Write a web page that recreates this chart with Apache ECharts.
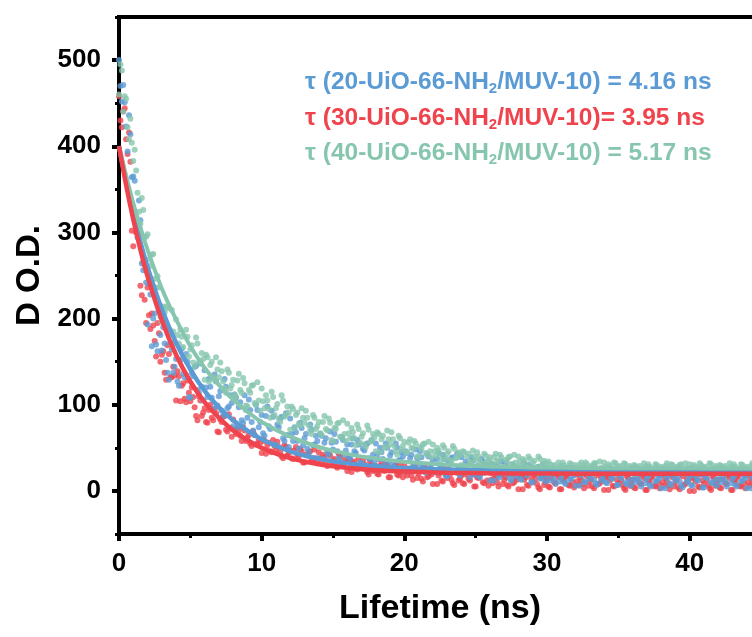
<!DOCTYPE html>
<html>
<head>
<meta charset="utf-8">
<script src="https://cdn.jsdelivr.net/npm/echarts@6/dist/echarts.min.js"></script>
<style>
html,body{margin:0;padding:0;background:#fff;}
#chart{width:752px;height:637px;}
</style>
</head>
<body>
<div id="chart"></div>
<script>
// sampling step of the decay traces (ns); the "Mid" arrays are sampled half a step later
const STEP = 0.2;

const red30 = [458,422,444,391,382,284,300,296,227,222,
236,188,192,156,183,158,137,169,132,144,
105,133,122,107,128,104,109,87,110,87,
96,79,100,82,90,68,80,87,69,73,
83,66,70,58,70,62,55,69,54,60,
44,58,53,46,59,47,51,40,53,41,
47,37,51,40,46,33,41,46,35,38,
45,34,39,29,41,35,29,43,30,36,
23,36,32,26,38,27,31,22,34,23,
29,19,33,23,29,16,25,30,18,22,
29,18,23,13,26,20,14,29,16,22,
8,23,18,12,26,15,19,9,23,12,
18,8,24,12,19,5,15,21,9,12,
21,9,15,5,19,13,7,22,9,16,
2,17,13,7,21,10,14,4,18,7,
14,4,20,9,16,2,12,18,6,10,
19,7,13,3,17,11,5,21,8,15,
1,16,12,6,20,9,13,3,17,6,
13,3,19,8,15,1,11,17,5,9,
18,6,12,2,16,10,4,20,7,14,
0,15,11,5,19,8,13,3,17,6,
13,3,19,8,15,1,11,17,5,9,
18,6,12,2,16,10];
const red30Mid = [430,441,408,416,302,319,307,238,266,195,
204,206,174,195,150,162,129,159,132,134,
139,104,125,103,114,120,97,82,105,91,
80,94,85,95,69,83,86,71,89,63,
71,74,64,74,58,65,52,65,55,56,
60,43,56,45,52,57,45,38,51,44,
38,47,42,49,33,42,45,36,48,32,
38,42,34,44,31,37,27,40,31,33,
37,22,34,25,31,36,25,19,31,25,
20,29,24,32,16,26,29,19,32,16,
22,26,18,30,15,23,11,26,17,19,
24,8,21,11,19,25,13,7,21,14,
9,19,14,22,5,16,20,10,24,6,
13,18,10,22,8,16,5,19,10,13,
18,2,16,6,14,19,8,2,16,10,
5,15,10,19,2,13,17,7,21,4,
11,16,8,20,6,14,3,18,9,12,
17,1,15,5,13,18,7,1,15,9,
4,14,9,18,1,12,16,6,20,3,
10,15,7,19,5,13,2,17,8,11,
16,0,14,4,12,18,7,1,15,9,
4,14,9,18,1,12,16,6,20,3,
10,15,7,19,5];

const blue20 = [500,452,451,394,414,365,316,337,264,264,
193,228,200,170,210,163,171,137,172,137,
153,122,165,132,150,108,133,145,114,121,
140,109,121,95,127,110,93,130,96,111,
75,108,97,82,111,85,94,70,100,74,
88,64,98,72,86,53,74,86,58,65,
84,58,68,49,73,61,49,77,53,64,
38,64,56,45,69,48,57,38,63,42,
54,38,61,44,54,32,47,55,37,42,
55,37,45,30,50,41,31,55,35,45,
23,44,38,29,48,32,39,24,43,27,
36,22,44,28,37,17,31,39,22,27,
39,22,30,16,35,26,18,37,21,30,
12,30,25,18,34,21,26,14,31,17,
25,13,32,18,27,10,21,28,14,18,
27,12,19,8,23,16,10,27,13,21,
6,22,18,11,26,14,20,9,24,12,
20,9,26,14,22,7,15,22,8,13,
23,10,16,5,21,14,7,25,11,18,
3,20,15,9,24,12,17,6,22,10,
17,6,24,12,19,4,15,22,9,13,
23,10,16,5,21,14,7,25,11,18,
3,20,15,9,24,12];
const blue20Mid = [470,471,423,436,364,360,294,314,256,242,
240,168,206,162,181,190,152,129,164,144,
127,152,136,159,109,137,144,117,148,105,
120,130,108,135,99,116,87,121,98,102,
112,74,103,79,94,106,80,65,94,80,
67,87,75,93,54,77,84,61,90,51,
66,74,58,79,53,66,45,71,54,58,
66,37,61,42,56,66,46,34,59,47,
39,54,46,59,33,49,54,38,59,33,
43,50,37,55,34,45,28,50,36,40,
46,23,42,27,38,46,30,21,40,31,
23,37,30,42,18,33,38,23,43,18,
28,34,23,39,19,29,16,34,23,26,
32,12,29,16,26,32,19,12,28,21,
14,26,20,30,10,23,27,15,31,11,
18,22,13,26,11,20,8,24,14,18,
23,6,21,10,19,25,13,7,22,15,
10,21,15,25,7,17,21,10,25,6,
14,20,11,24,9,17,5,22,12,15,
21,3,18,7,16,23,11,4,20,13,
7,18,13,23,4,16,21,10,25,6,
14,20,11,24,9,17,5,22,12,15,
21,3,18,7,16];

const green40 = [460,488,458,422,432,383,372,324,340,295,
298,261,275,236,236,196,207,212,182,185,
199,171,179,155,179,164,149,178,149,160,
129,155,146,132,155,132,139,119,141,119,
129,109,136,114,125,98,114,123,100,105,
119,96,105,85,109,96,84,111,86,98,
71,95,88,78,96,79,85,70,88,72,
80,65,87,70,79,58,72,79,62,66,
78,61,68,53,72,63,54,76,57,66,
46,66,60,51,70,54,60,46,64,48,
57,45,60,49,55,40,49,55,42,46,
54,41,47,36,50,43,36,52,38,45,
30,45,40,34,47,36,40,32,43,34,
39,31,43,34,39,28,35,40,30,33,
40,30,35,27,37,32,27,40,29,35,
23,31,29,25,33,27,30,24,32,26,
30,24,33,27,31,23,29,32,25,27,
33,26,29,23,32,28,23,32,25,29,
20,29,27,23,32,25,28,22,31,24,
28,22,32,25,30,21,27,31,24,26,
31,24,28,22,30,27,23,32,25,29,
20,29,27,23,32,25,28,22,31,24,
28,22,32,25,30,21];
const green40Mid = [495,440,455,408,404,396,346,310,326,295,
269,274,246,249,202,214,214,187,210,171,
181,187,167,187,156,169,144,171,150,153,
158,127,150,129,141,149,127,114,137,123,
112,128,117,131,99,117,122,102,126,93,
104,111,95,115,88,101,80,105,88,91,
98,73,91,76,85,93,76,66,85,75,
67,80,72,84,59,73,78,63,82,58,
67,73,61,77,56,67,51,71,58,62,
68,45,64,50,60,68,52,42,61,52,
45,56,50,58,40,51,54,44,57,39,
46,50,42,53,38,46,34,49,39,41,
46,29,43,33,40,45,35,30,41,36,
32,39,35,42,28,36,39,31,42,28,
34,37,31,40,28,35,26,37,30,32,
34,22,30,24,29,33,26,23,31,27,
24,30,27,33,23,29,32,26,34,24,
28,31,26,33,25,29,22,31,25,27,
30,20,29,23,28,31,25,21,30,26,
23,29,26,31,21,28,30,24,32,22,
27,30,25,32,24,28,22,31,25,27,
30,20,29,23,28,31,25,21,30,26,
23,29,26,31,21];

// fitted decay curves
const fitTimes = [0,0.5,1,1.5,2,3,4,5,6,7,8,9,10,12,14,16,18,20,23,26,30,35,40,45];
const fitRed   = [400,355,315,280,249,198,158,127,103,85,70,59,50,38,31,27,24,22.4,21.1,20.5,20.2,20,20,20];
const fitBlue  = [400,359,322,289,260,211,172,141,116,97,82,70,60,46,37.5,32,28.7,26.6,24.8,23.9,23.4,23.1,23,23];
const fitGreen = [400,366,334,306,280,235,199,168,143,123,106,92,80,63,51,43,37.5,33.8,30.4,28.4,27.1,26.4,26.2,26.1];

// axis tick labels and annotation texts
const yLabelValues = [0,100,200,300,400,500];
const legendLines = [
  {pre:'τ (20-UiO-66-NH', post:'/MUV-10) = 4.16 ns', color:'#5B9BD5'},
  {pre:'τ (30-UiO-66-NH', post:'/MUV-10)= 3.95 ns',  color:'#EF434D'},
  {pre:'τ (40-UiO-66-NH', post:'/MUV-10) = 5.17 ns', color:'#86C6AE'}
];

const C_BLUE = '#5B9BD5', C_RED = '#EF434D', C_GREEN = '#86C6AE';
const FONT = '"Liberation Sans", Arial, sans-serif';

const twoTraces = (a, b) => a.map((v, i) => [i * STEP, v]).concat(b.map((v, i) => [i * STEP + STEP / 2, v]));
const fit = arr => arr.map((v, i) => [fitTimes[i], v]);

const chart = echarts.init(document.getElementById('chart'), null, {renderer:'canvas'});

const scatterBase = {type:'scatter', symbolSize:6, symbol:'circle', silent:true};
const lineBase = {type:'line', smooth:0.4, showSymbol:false, symbol:'none', silent:true};

chart.setOption({
  animation:false,
  backgroundColor:'#fff',
  grid:{left:119, top:17, width:642, height:517, show:true, borderColor:'#000', borderWidth:4,
        backgroundColor:'transparent', outerBoundsMode:'none', containLabel:false},
  xAxis:{
    type:'value', min:0, max:45, interval:10,
    name:'Lifetime (ns)', nameLocation:'middle', nameGap:58,
    nameTextStyle:{fontFamily:FONT, fontWeight:'bold', fontSize:34, color:'#000'},
    axisLine:{show:true, onZero:false, lineStyle:{color:'#000', width:4}},
    axisTick:{show:true, inside:false, length:7, lineStyle:{color:'#000', width:4}},
    minorTick:{show:true, splitNumber:2, length:4, lineStyle:{color:'#000', width:3}},
    axisLabel:{margin:17, fontFamily:FONT, fontWeight:'bold', fontSize:26, color:'#000',
      formatter: v => (v % 10 === 0 && v <= 40) ? String(v) : ''},
    splitLine:{show:false}
  },
  yAxis:[
    {
      type:'value', min:-50, max:550, interval:50, position:'left',
      axisLine:{show:false},
      axisTick:{show:true, length:4, lineStyle:{color:'#000', width:3}},
      axisLabel:{show:false},
      splitLine:{show:false}
    },
    {
      type:'value', min:-50, max:550, position:'left', offset:0,
      name:'D O.D.', nameLocation:'middle', nameGap:72, nameRotate:90,
      nameTextStyle:{fontFamily:FONT, fontWeight:'bold', fontSize:33, color:'#000'},
      axisLine:{show:true, onZero:false, lineStyle:{color:'#000', width:4}},
      axisTick:{show:true, length:7, customValues:yLabelValues, lineStyle:{color:'#000', width:4}},
      axisLabel:{margin:18, customValues:yLabelValues, fontFamily:FONT, fontWeight:'bold', fontSize:26, color:'#000'},
      splitLine:{show:false}
    }
  ],
  series:[
    Object.assign({}, scatterBase, {name:'30 data', data:twoTraces(red30, red30Mid), itemStyle:{color:C_RED}}),
    Object.assign({}, scatterBase, {name:'20 data', data:twoTraces(blue20, blue20Mid), itemStyle:{color:C_BLUE}}),
    Object.assign({}, scatterBase, {name:'40 data', data:twoTraces(green40, green40Mid), itemStyle:{color:C_GREEN}}),
    Object.assign({}, lineBase, {name:'20 fit', data:fit(fitBlue), lineStyle:{color:C_BLUE, width:4.5}}),
    Object.assign({}, lineBase, {name:'40 fit', data:fit(fitGreen), lineStyle:{color:C_GREEN, width:4}}),
    Object.assign({}, lineBase, {name:'30 fit', data:fit(fitRed), lineStyle:{color:C_RED, width:4.5}})
  ],
  graphic: legendLines.map((l, k) => ({
    type:'text', left:305, top:70 + k*35.5, z:100, silent:true,
    style:{
      text:'{m|' + l.pre + '}{s|2}{m|' + l.post + '}',
      rich:{
        m:{fontFamily:FONT, fontWeight:'bold', fontSize:24.5, fill:l.color, color:l.color, lineHeight:28, verticalAlign:'middle'},
        s:{fontFamily:FONT, fontWeight:'bold', fontSize:15, fill:l.color, color:l.color, lineHeight:28, verticalAlign:'bottom'}
      }
    }
  }))
});
</script>
</body>
</html>
